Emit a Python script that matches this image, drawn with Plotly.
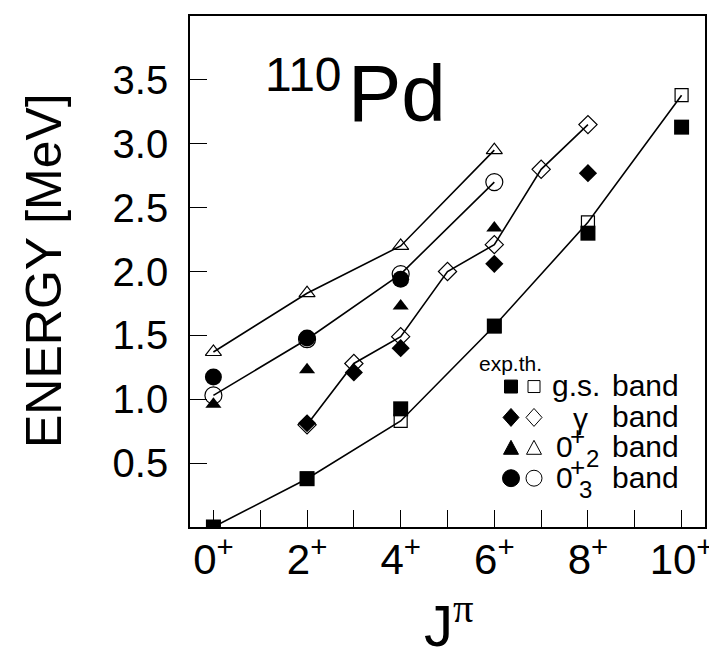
import plotly.graph_objects as go

# ---------------- data ----------------
J_gs = [0, 2, 4, 6, 8, 10]
gs_exp = [0.0, 0.378, 0.925, 1.573, 2.30, 3.13]
gs_th = [0.0, 0.378, 0.83, 1.573, 2.385, 3.38]

J_g_exp = [2, 3, 4, 6, 8]
g_exp = [0.812, 1.21, 1.40, 2.06, 2.77]
J_g_th = [2, 3, 4, 5, 6, 7, 8]
g_th = [0.80, 1.28, 1.49, 2.00, 2.21, 2.80, 3.15]

J_02 = [0, 2, 4, 6]
b02_exp = [0.96, 1.23, 1.73, 2.34]
b02_th = [1.37, 1.83, 2.20, 2.95]

J_03_exp = [0, 2, 4]
b03_exp = [1.175, 1.48, 1.94]
J_03_th = [0, 2, 4, 6]
b03_th = [1.03, 1.47, 1.98, 2.70]

x_tickvals = list(range(0, 11))
x_ticktext = ["0<sup>+</sup>", "", "2<sup>+</sup>", "", "4<sup>+</sup>", "",
              "6<sup>+</sup>", "", "8<sup>+</sup>", "", "10<sup>+</sup>"]
y_tickvals = [0.5, 1.0, 1.5, 2.0, 2.5, 3.0, 3.5]
y_ticktext = ["0.5", "1.0", "1.5", "2.0", "2.5", "3.0", "3.5"]

FONT = "Liberation Sans, Arial, sans-serif"
BLK = "black"

fig = go.Figure()

def th(x, y, sym, size):
    fig.add_trace(go.Scatter(
        x=x, y=y, mode="lines+markers",
        line=dict(color=BLK, width=1.6),
        marker=dict(symbol=sym + "-open", size=size, color=BLK, line=dict(width=1.2, color=BLK)),
        showlegend=False, hoverinfo="skip"))

def ex(x, y, sym, size):
    fig.add_trace(go.Scatter(
        x=x, y=y, mode="markers",
        marker=dict(symbol=sym, size=size, color=BLK, line=dict(width=0)),
        showlegend=False, hoverinfo="skip"))

th(J_gs, gs_th, "square", 13)
th(J_g_th, g_th, "diamond", 14)
th(J_02, b02_th, "triangle-up", 14)
th(J_03_th, b03_th, "circle", 17)

ex(J_gs, gs_exp, "square", 15)
ex(J_g_exp, g_exp, "diamond", 14)
ex(J_02, b02_exp, "triangle-up", 14)
ex(J_03_exp, b03_exp, "circle", 17)

W, H = 717, 664
L, R, T, B = 182, 20, 6, 145
pw, ph = W - L - R, H - T - B

def px(xp):
    return (xp - L) / pw

def py(yp):
    return (H - B - yp) / ph

def a(x, y, text, size, xanchor="center", family=FONT, textangle=0):
    return dict(x=px(x), y=py(y), xref="paper", yref="paper", xanchor=xanchor, yanchor="middle",
                text=text, showarrow=False, textangle=textangle,
                font=dict(family=family, size=size, color=BLK))

ann = []
# axis titles
ann.append(a(36, 262, "ENERGY [MeV]", 50, textangle=-90))
ann.append(a(441, 614, "J<sup><span style='font-family:Liberation Serif'>π</span></sup>", 58))
# nucleus label
ann.append(a(255, 65, "110", 48, xanchor="left"))
ann.append(a(338, 84, "Pd", 80, xanchor="left"))
# legend texts
ann.append(a(469, 355, "exp.th.", 21, xanchor="left"))
rows = [377, 408, 438, 469]
for r in rows:
    ann.append(a(602, r, "band", 30, xanchor="left"))
ann.append(a(542, 377, "g.s.", 30, xanchor="left"))
ann.append(a(572, 410, "γ", 30))
for r, sub, sx in [(438, "2", 584), (469, "3", 577)]:
    ann.append(a(556, r, "0", 30))
    ann.append(a(569, r - 10, "+", 26))
    ann.append(a(sx, r + 12, sub, 24))

# legend symbols as shapes (pixel -> paper)
shapes = []
def rect(cx, cy, s, filled):
    shapes.append(dict(type="rect", xref="paper", yref="paper",
                       x0=px(cx - s / 2), x1=px(cx + s / 2), y0=py(cy + s / 2), y1=py(cy - s / 2),
                       line=dict(color=BLK, width=1), fillcolor=BLK if filled else "white"))
def circ(cx, cy, s, filled):
    shapes.append(dict(type="circle", xref="paper", yref="paper",
                       x0=px(cx - s / 2), x1=px(cx + s / 2), y0=py(cy + s / 2), y1=py(cy - s / 2),
                       line=dict(color=BLK, width=1), fillcolor=BLK if filled else "white"))
def poly(pts, filled):
    d = "M " + " L ".join(f"{px(x):.5f},{py(y):.5f}" for x, y in pts) + " Z"
    shapes.append(dict(type="path", xref="paper", yref="paper", path=d,
                       line=dict(color=BLK, width=1), fillcolor=BLK if filled else "white"))
def diamond(cx, cy, w, h, filled):
    poly([(cx, cy - h / 2), (cx + w / 2, cy), (cx, cy + h / 2), (cx - w / 2, cy)], filled)
def tri(cx, cy, w, h, filled):
    poly([(cx, cy - h / 2), (cx + w / 2, cy + h / 2), (cx - w / 2, cy + h / 2)], filled)

rect(503, 378, 13, True)
rect(526, 378, 12, False)
diamond(503, 409, 16, 18, True)
diamond(526, 409, 16, 18, False)
tri(503, 439, 15, 14, True)
tri(526, 439, 15, 14, False)
circ(503, 470, 17, True)
circ(526, 470, 16, False)

fig.update_layout(
    width=W, height=H,
    margin=dict(l=L, r=R, t=T, b=B),
    paper_bgcolor="white", plot_bgcolor="white",
    font=dict(family=FONT, color=BLK),
    annotations=ann, shapes=shapes,
    xaxis=dict(range=[-0.5, 10.5], tickmode="array", tickvals=x_tickvals, ticktext=x_ticktext,
               ticks="inside", ticklen=17, tickwidth=1.3, tickcolor=BLK,
               showline=True, linecolor=BLK, linewidth=1.6, mirror=True, ticklabelstandoff=-5,
               showgrid=False, zeroline=False, tickfont=dict(size=42, family=FONT)),
    yaxis=dict(range=[0, 4.0], tickmode="array", tickvals=y_tickvals, ticktext=y_ticktext,
               ticks="inside", ticklen=17, tickwidth=1.3, tickcolor=BLK,
               showline=True, linecolor=BLK, linewidth=1.6, mirror=True, ticklabelstandoff=12,
               showgrid=False, zeroline=False, tickfont=dict(size=40, family=FONT)),
)

fig.write_html("out.html")
